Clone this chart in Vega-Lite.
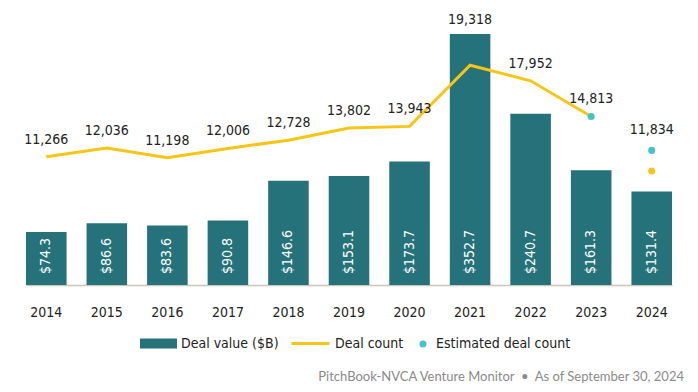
{
  "$schema": "https://vega.github.io/schema/vega-lite/v6.json",
  "width": 646,
  "height": 275,
  "autosize": {"type": "none"},
  "padding": {"left": 26, "top": 10, "right": 26, "bottom": 107},
  "background": "white",
  "config": {
    "view": {"stroke": null},
    "font": "DejaVu Sans Condensed, sans-serif"
  },
  "title": {
    "text": "PitchBook-NVCA Venture Monitor\u00a0\u00a0•\u00a0\u00a0As of September 30, 2024",
    "orient": "bottom",
    "anchor": "end",
    "frame": "group",
    "font": "Lato",
    "fontSize": 13,
    "fontWeight": "normal",
    "color": "#8a8a8a",
    "offset": 20,
    "dx": 12
  },
  "data": {
    "values": [
      {"year": 2014, "value": 74.3, "count": 11266, "ytd": null, "est": null},
      {"year": 2015, "value": 86.6, "count": 12036, "ytd": null, "est": null},
      {"year": 2016, "value": 83.6, "count": 11198, "ytd": null, "est": null},
      {"year": 2017, "value": 90.8, "count": 12006, "ytd": null, "est": null},
      {"year": 2018, "value": 146.6, "count": 12728, "ytd": null, "est": null},
      {"year": 2019, "value": 153.1, "count": 13802, "ytd": null, "est": null},
      {"year": 2020, "value": 173.7, "count": 13943, "ytd": null, "est": null},
      {"year": 2021, "value": 352.7, "count": 19318, "ytd": null, "est": null},
      {"year": 2022, "value": 240.7, "count": 17952, "ytd": null, "est": null},
      {"year": 2023, "value": 161.3, "count": 14813, "ytd": null, "est": 14813},
      {"year": 2024, "value": 131.4, "count": null, "ytd": 10021, "est": 11834}
    ]
  },
  "encoding": {
    "x": {
      "field": "year",
      "type": "ordinal",
      "scale": {"paddingInner": 0.33, "paddingOuter": 0},
      "axis": {
        "title": null,
        "labelAngle": 0,
        "ticks": false,
        "grid": false,
        "labelFontSize": 14,
        "labelColor": "#222222",
        "labelPadding": 20,
        "domainColor": "#c9c5bb",
        "domainWidth": 1.5
      }
    }
  },
  "layer": [
    {
      "mark": {"type": "bar"},
      "encoding": {
        "y": {"field": "value", "type": "quantitative", "scale": {"domain": [0, 386.4], "nice": false}, "axis": null},
        "fill": {
          "datum": "Deal value ($B)",
          "scale": {"range": ["#26727a"]},
          "legend": {
            "title": null,
            "orient": "none",
            "legendX": 114,
            "legendY": 315,
            "symbolType": "M-1,-0.27H1V0.27H-1Z",
            "symbolSize": 1369,
            "symbolStrokeWidth": 0,
            "labelFontSize": 14,
            "labelColor": "#222222",
            "labelOffset": 4
          }
        }
      }
    },
    {
      "mark": {"type": "text", "angle": 270, "align": "left", "baseline": "middle", "dx": 11, "color": "white", "fontSize": 14},
      "encoding": {
        "y": {"datum": 0, "type": "quantitative", "scale": {"domain": [0, 386.4], "nice": false}, "axis": null},
        "text": {"field": "value", "type": "quantitative", "format": "$.1f"}
      }
    },
    {
      "transform": [{"filter": "isValid(datum.count)"}],
      "mark": {"type": "line", "strokeWidth": 3},
      "encoding": {
        "y": {"field": "count", "type": "quantitative", "scale": {"domain": [0, 24174], "nice": false}, "axis": null},
        "stroke": {
          "datum": "Deal count",
          "scale": {"range": ["#f6c516"]},
          "legend": {
            "title": null,
            "orient": "none",
            "legendX": 264,
            "legendY": 313,
            "symbolType": "stroke",
            "symbolSize": 1444,
            "symbolStrokeWidth": 3,
            "labelFontSize": 14,
            "labelColor": "#222222",
            "labelOffset": 4
          }
        }
      }
    },
    {
      "transform": [{"filter": "isValid(datum.count) && datum.year != 2021"}],
      "mark": {"type": "text", "baseline": "middle", "dy": -17, "fontSize": 14, "color": "#222222"},
      "encoding": {
        "y": {"field": "count", "type": "quantitative", "scale": {"domain": [0, 24174], "nice": false}, "axis": null},
        "text": {"field": "count", "type": "quantitative", "format": ",d"}
      }
    },
    {
      "transform": [{"filter": "datum.year == 2021"}],
      "mark": {"type": "text", "baseline": "middle", "dy": -14, "fontSize": 14, "color": "#222222"},
      "encoding": {
        "y": {"field": "value", "type": "quantitative", "scale": {"domain": [0, 386.4], "nice": false}, "axis": null},
        "text": {"field": "count", "type": "quantitative", "format": ",d"}
      }
    },
    {
      "transform": [{"filter": "isValid(datum.ytd)"}],
      "mark": {"type": "circle", "size": 50, "color": "#f6c516", "opacity": 1},
      "encoding": {
        "y": {"field": "ytd", "type": "quantitative", "scale": {"domain": [0, 24174], "nice": false}, "axis": null}
      }
    },
    {
      "transform": [{"filter": "isValid(datum.est)"}],
      "mark": {"type": "point", "filled": true, "size": 50, "color": "#45c3cc", "opacity": 1},
      "encoding": {
        "y": {"field": "est", "type": "quantitative", "scale": {"domain": [0, 24174], "nice": false}, "axis": null},
        "shape": {
          "datum": "Estimated deal count",
          "scale": {"range": ["circle"]},
          "legend": {
            "title": null,
            "orient": "none",
            "legendX": 390,
            "legendY": 327,
            "symbolSize": 50,
            "symbolFillColor": "#45c3cc",
            "symbolStrokeWidth": 0,
            "labelFontSize": 14,
            "labelColor": "#222222",
            "labelOffset": 6
          }
        }
      }
    },
    {
      "transform": [{"filter": "datum.year == 2024"}],
      "mark": {"type": "text", "baseline": "middle", "dy": -20, "fontSize": 14, "color": "#222222"},
      "encoding": {
        "y": {"field": "est", "type": "quantitative", "scale": {"domain": [0, 24174], "nice": false}, "axis": null},
        "text": {"field": "est", "type": "quantitative", "format": ",d"}
      }
    }
  ],
  "resolve": {"scale": {"y": "independent"}}
}
